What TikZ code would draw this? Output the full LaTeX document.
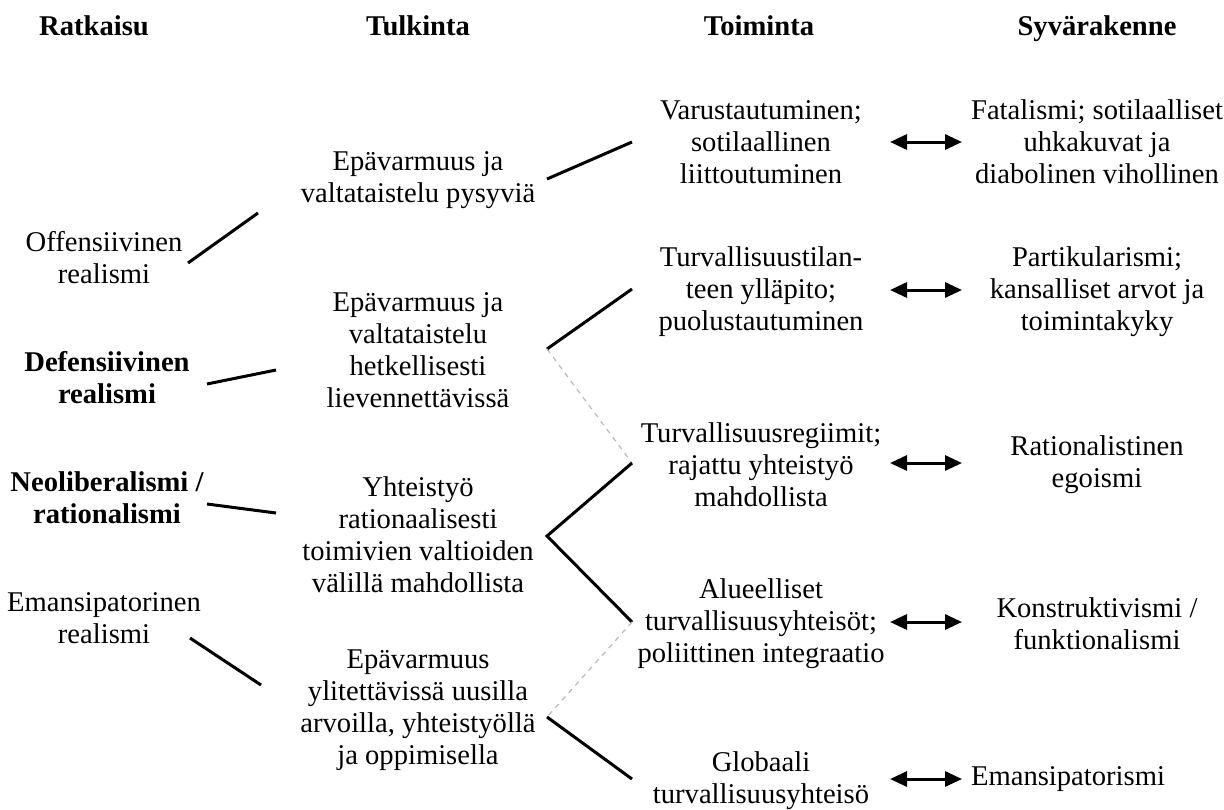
\documentclass[tikz,border=0pt]{standalone}
\usepackage{fontspec}
\setmainfont{Liberation Serif}
\usetikzlibrary{arrows.meta}

\begin{document}
\begin{tikzpicture}[
    x=0.5pt, y=-0.5pt,
    % Styles
    txt/.style={
        align=center,
        inner sep=0pt,
        font=\fontsize{14.3}{16}\selectfont
    },
    head/.style={
        txt,
        anchor=base,
        font=\fontsize{14.3}{16}\selectfont\bfseries
    },
    link/.style={
        line width=1.5pt
    },
    hint/.style={
        draw=gray!55,
        dash pattern=on 2.5pt off 2.5pt,
        line width=0.6pt
    },
    biarrow/.style={
        {Triangle[length=8.5pt, width=7.5pt]}-{Triangle[length=8.5pt, width=7.5pt]},
        line width=1.5pt
    }
]
    \useasboundingbox (0,0) rectangle (1224,809);

    % Headers
    \node[head] (hRat) at (94,35) {Ratkaisu};
    \node[head] (hTul) at (418,35) {Tulkinta};
    \node[head] (hToi) at (759,35) {Toiminta};
    \node[head] (hSyv) at (1097,35) {Syvärakenne};

    % Ratkaisu
    \node[txt] (off) at (104,258) {Offensiivinen\\realismi};
    \node[txt, font=\fontsize{14.3}{16}\selectfont\bfseries] (def) at (107,378) {Defensiivinen\\realismi};
    \node[txt, font=\fontsize{14.3}{16}\selectfont\bfseries] (neo) at (107,498) {Neoliberalismi /\\rationalismi};
    \node[txt] (ema) at (104,618) {Emansipatorinen\\realismi};

    % Tulkinta
    \node[txt] (tul1) at (418,180) {Epävarmuus ja\\valtataistelu pysyviä};
    \node[txt] (tul2) at (418,350) {Epävarmuus ja\\valtataistelu\\hetkellisesti\\lievennettävissä};
    \node[txt] (tul3) at (418,535) {Yhteistyö\\rationaalisesti\\toimivien valtioiden\\välillä mahdollista};
    \node[txt] (tul4) at (418,710) {Epävarmuus\\ylitettävissä uusilla\\arvoilla, yhteistyöllä\\ja oppimisella};

    % Toiminta
    \node[txt] (toi1) at (761,142) {Varustautuminen;\\sotilaallinen\\liittoutuminen};
    \node[txt] (toi2) at (761,292) {Turvallisuustilan-\\teen ylläpito;\\puolustautuminen};
    \node[txt] (toi3) at (761,465) {Turvallisuusregiimit;\\rajattu yhteistyö\\mahdollista};
    \node[txt] (toi4) at (761,624) {Alueelliset\\turvallisuusyhteisöt;\\poliittinen integraatio};
    \node[txt] (toi5) at (761,781) {Globaali\\turvallisuusyhteisö};

    % Syvärakenne
    \node[txt] (syv1) at (1097,142) {Fatalismi; sotilaalliset\\uhkakuvat ja\\diabolinen vihollinen};
    \node[txt] (syv2) at (1097,292) {Partikularismi;\\kansalliset arvot ja\\toimintakyky};
    \node[txt] (syv3) at (1097,465) {Rationalistinen\\egoismi};
    \node[txt] (syv4) at (1097,624) {Konstruktivismi /\\funktionalismi};
    \node[txt] (syv5) at (1068,779) {Emansipatorismi};

    % Line ends
    \coordinate (offR) at (188,263);  \coordinate (tul1L) at (258,213);
    \coordinate (defR) at (207,384);  \coordinate (tul2L) at (276,370);
    \coordinate (neoR) at (207,504);  \coordinate (tul3L) at (276,513);
    \coordinate (emaR) at (190,638);  \coordinate (tul4L) at (261,685);
    \coordinate (tul1R) at (547,179); \coordinate (toi1L) at (632,142);
    \coordinate (tul2R) at (547,349); \coordinate (toi2L) at (632,289);
    \coordinate (tul3R) at (547,536); \coordinate (toi3L) at (632,463);
    \coordinate (tul4R) at (547,717); \coordinate (toi4L) at (632,622);
    \coordinate (toi5L) at (632,779);

    % Paths
    \draw[link] (offR) -- (tul1L);
    \draw[link] (defR) -- (tul2L);
    \draw[link] (neoR) -- (tul3L);
    \draw[link] (emaR) -- (tul4L);
    \draw[link] (tul1R) -- (toi1L);
    \draw[link] (tul2R) -- (toi2L);
    \draw[hint] (tul2R) -- (toi3L);
    \draw[link] (toi3L) -- (tul3R) -- (toi4L);
    \draw[hint] (toi4L) -- (tul4R);
    \draw[link] (tul4R) -- (toi5L);

    % Arrows
    \foreach \i/\y in {1/142, 2/290, 3/463, 4/622, 5/779} {
        \coordinate (a\i L) at (890,\y);
        \coordinate (a\i R) at (962,\y);
        \draw[biarrow] (a\i L) -- (a\i R);
    }
\end{tikzpicture}
\end{document}
